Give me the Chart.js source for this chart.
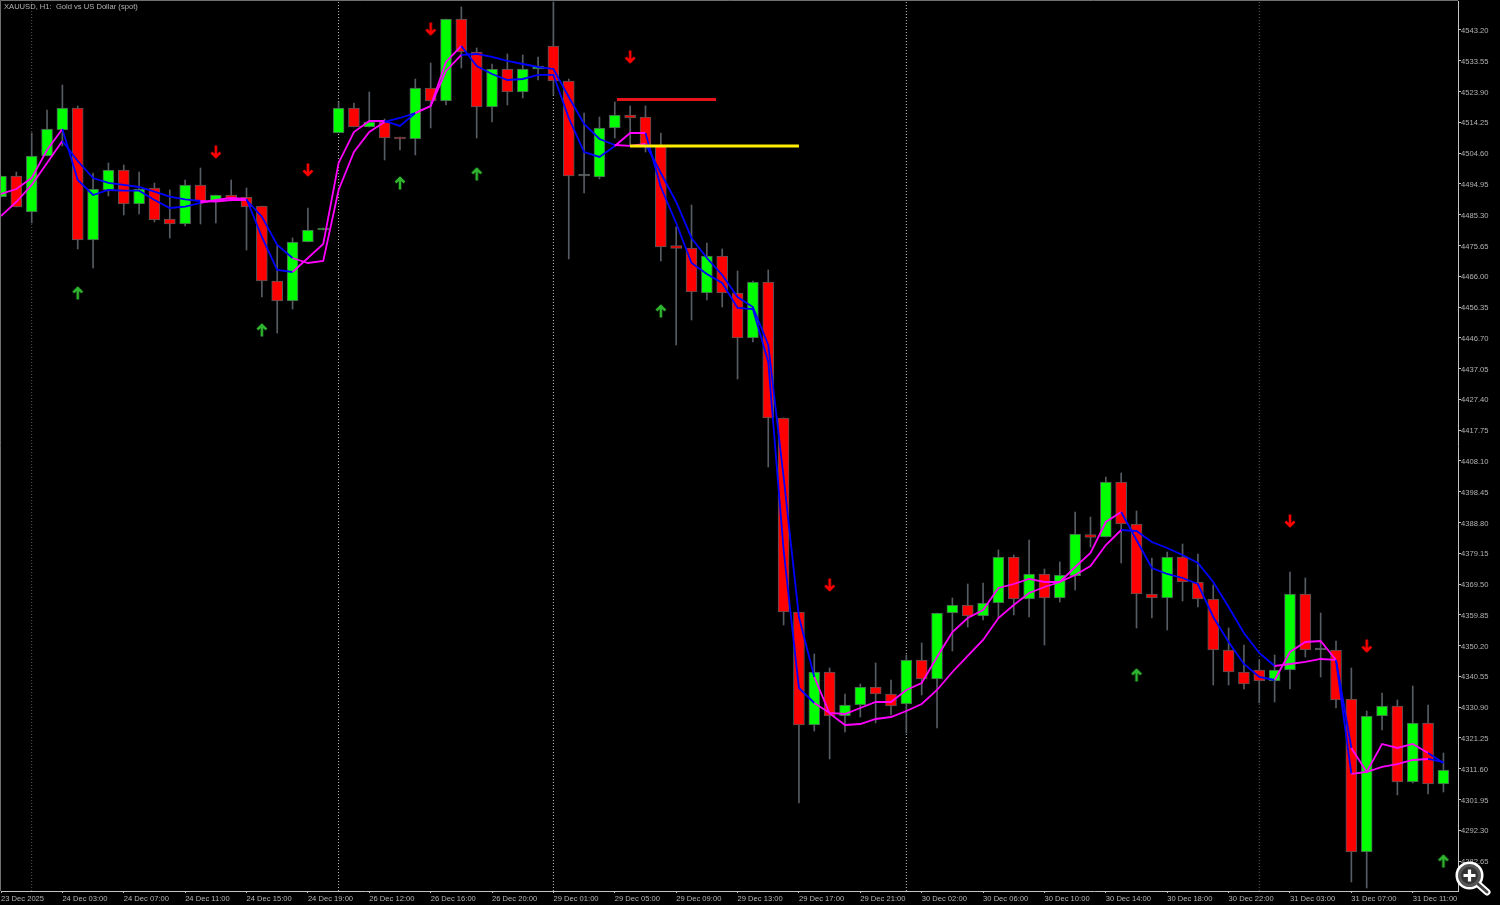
<!DOCTYPE html>
<html>
<head>
<meta charset="utf-8">
<title>XAUUSD, H1</title>
<script src="https://cdn.jsdelivr.net/npm/chart.js@4"></script>
<style>
html,body{margin:0;padding:0;background:#000;overflow:hidden}
#wrap{position:relative;width:1500px;height:905px}
canvas{display:block}
#zoomIcon{position:absolute;left:1454px;top:860px;width:40px;height:40px}
</style>
</head>
<body>
<div id="wrap">
<canvas id="c" width="1500" height="905"></canvas>
<svg id="zoomIcon" viewBox="0 0 40 40" aria-hidden="true">
<line x1="24" y1="24" x2="33" y2="32" stroke="#fff" stroke-width="7" stroke-linecap="round"/>
<circle cx="15.5" cy="15.5" r="11.5" fill="#000" stroke="#fff" stroke-width="5"/>
<line x1="24" y1="24" x2="33" y2="32" stroke="#444" stroke-width="3" stroke-linecap="round"/>
<circle cx="15.5" cy="15.5" r="10" fill="#333" stroke="#555" stroke-width="3"/>
<path d="M15.5 9.5v12M9.5 15.5h12" stroke="#fff" stroke-width="3.2"/>
</svg>
</div>
<script>
const chartTitle = 'XAUUSD, H1:  Gold vs US Dollar (spot)';

const opens = [4490.85,4497.43,4486.14,4503.70,4511.85,4518.75,4477.37,4493.04,4499.31,4488.65,
4493.67,4483.95,4482.38,4494.61,4489.59,4491.47,4490.85,4488.02,4464.51,4458.24,
4476.74,4480.50,4510.91,4518.75,4512.79,4514.36,4509.66,4509.03,4525.02,4520.94,
4546.65,4536.31,4519.06,4530.98,4523.77,4530.98,4538.19,4527.22,4497.43,4497.12,
4512.48,4516.55,4515.93,4506.84,4475.64,4474.86,4460.75,4472.35,4460.75,4446.64,
4464.20,4421.56,4360.74,4325.31,4341.92,4328.13,4331.57,4337.22,4335.03,4331.89,
4345.69,4339.73,4360.42,4362.93,4359.49,4363.55,4377.98,4364.81,4372.65,4365.12,
4372.02,4385.03,4384.25,4401.49,4388.32,4366.38,4365.12,4377.98,4370.14,4364.81,
4348.82,4341.92,4342.55,4339.10,4342.55,4366.38,4348.82,4348.82,4333.46,4285.49,
4328.13,4331.26,4307.43,4325.93,4306.80];

const highs = [4497.43,4498.68,4510.91,4518.12,4525.96,4519.38,4498.37,4501.51,4500.88,4498.68,
4495.24,4493.04,4496.18,4499.94,4491.47,4496.18,4493.67,4488.02,4475.80,4478.00,
4487.40,4481.13,4520.63,4520.32,4523.77,4515.30,4509.66,4527.84,4532.86,4546.65,
4550.42,4537.56,4532.54,4535.68,4535.37,4534.74,4551.98,4527.84,4517.18,4515.93,
4520.63,4519.38,4519.38,4510.91,4481.44,4488.34,4476.42,4474.54,4467.65,4464.51,
4467.96,4421.56,4360.74,4347.57,4343.18,4335.03,4338.16,4344.74,4339.41,4347.25,
4351.02,4360.42,4365.12,4369.51,4369.82,4380.17,4378.61,4383.31,4374.21,4376.41,
4392.09,4390.52,4403.06,4404.31,4392.40,4377.66,4379.54,4382.06,4378.92,4369.20,
4355.72,4350.39,4345.69,4347.25,4373.28,4371.39,4360.42,4351.64,4343.18,4329.70,
4335.34,4333.15,4337.53,4331.57,4316.52];

const lows = [4490.85,4487.71,4482.70,4503.70,4506.84,4474.54,4468.59,4491.16,4485.20,4485.52,
4483.01,4478.00,4481.75,4482.38,4482.70,4489.59,4474.23,4459.49,4448.21,4455.73,
4476.74,4480.50,4510.91,4512.79,4512.79,4502.45,4505.58,4504.01,4512.48,4519.69,
4531.29,4509.34,4514.36,4519.69,4521.88,4527.53,4522.83,4471.41,4492.10,4496.49,
4509.34,4507.15,4504.95,4470.78,4444.45,4452.28,4458.55,4456.36,4433.78,4445.39,
4406.19,4356.66,4300.84,4323.42,4314.65,4323.11,4327.81,4325.93,4328.44,4322.80,
4334.71,4324.36,4348.51,4356.03,4358.23,4358.85,4359.80,4359.17,4350.39,4363.87,
4367.63,4381.11,4384.25,4376.10,4355.72,4358.85,4355.09,4364.18,4362.30,4337.85,
4337.85,4336.59,4332.20,4332.51,4336.59,4346.62,4340.36,4330.64,4276.09,4274.21,
4323.74,4303.36,4307.12,4303.67,4304.30];

const closes = [4497.43,4487.71,4503.70,4512.17,4518.75,4477.37,4493.35,4499.31,4488.65,4493.35,
4483.64,4482.38,4494.61,4489.59,4491.47,4490.22,4487.71,4464.51,4458.24,4476.74,
4480.50,4481.13,4518.75,4512.79,4514.36,4509.34,4509.03,4525.02,4520.94,4546.65,
4536.31,4519.06,4530.98,4523.77,4530.98,4531.92,4527.22,4497.43,4497.43,4512.48,
4516.55,4515.61,4506.84,4475.17,4474.70,4461.06,4472.35,4460.75,4446.64,4464.20,
4421.56,4360.74,4325.31,4341.92,4328.13,4331.57,4337.22,4335.03,4331.26,4345.69,
4339.73,4360.42,4362.93,4359.49,4363.55,4377.98,4364.81,4372.65,4365.12,4372.34,
4385.19,4384.09,4401.49,4388.32,4366.38,4365.12,4377.98,4370.14,4364.81,4348.82,
4341.92,4338.16,4339.10,4342.55,4366.38,4348.82,4348.82,4333.15,4285.49,4328.13,
4331.26,4307.43,4325.93,4306.80,4311.20];

const fastMA = [4491.79,4493.35,4496.80,4505.58,4512.17,4496.18,4491.47,4493.04,4492.82,4492.82,
4489.90,4487.40,4487.81,4488.97,4489.90,4490.53,4490.22,4478.31,4467.96,4467.33,
4471.72,4476.11,4501.51,4511.22,4514.67,4514.67,4513.11,4517.12,4519.38,4533.17,
4538.19,4531.92,4529.41,4527.53,4527.84,4529.10,4529.10,4515.61,4504.95,4503.39,
4506.84,4510.91,4510.91,4493.98,4482.70,4470.15,4466.70,4463.88,4456.04,4455.73,
4439.12,4380.17,4336.91,4332.20,4329.07,4328.76,4330.64,4332.51,4332.51,4336.28,
4338.47,4346.62,4354.46,4358.85,4361.36,4368.26,4369.51,4371.08,4370.14,4370.14,
4374.84,4379.23,4388.95,4392.09,4383.31,4374.53,4372.65,4371.39,4369.51,4359.17,
4351.33,4344.43,4340.36,4339.41,4348.20,4351.33,4351.64,4345.69,4309.95,4310.57,
4319.35,4318.10,4319.35,4316.52,4313.39];

const slowMA = [4484.89,4489.28,4494.61,4501.51,4508.40,4502.13,4496.80,4495.24,4494.61,4493.98,
4492.51,4490.94,4490.12,4489.59,4489.37,4489.90,4489.90,4484.67,4475.80,4471.72,
4470.15,4470.78,4493.04,4504.95,4511.22,4514.36,4515.61,4517.18,4519.38,4530.35,
4535.37,4535.68,4534.74,4533.49,4532.54,4531.60,4530.98,4522.20,4513.73,4509.03,
4507.15,4506.84,4507.46,4498.37,4489.28,4478.00,4471.72,4466.39,4459.49,4456.36,
4444.45,4403.06,4359.17,4340.36,4328.91,4325.31,4325.62,4327.19,4327.81,4329.70,
4331.89,4336.28,4341.92,4346.94,4351.96,4358.85,4362.93,4366.69,4368.57,4370.14,
4372.34,4375.16,4381.74,4386.44,4386.13,4382.68,4380.80,4378.61,4376.10,4370.14,
4362.30,4354.15,4347.88,4343.80,4344.43,4345.06,4346.00,4345.69,4318.10,4310.57,
4312.14,4313.07,4314.33,4314.65,4313.70];

const upArrowIndex = [5,17,26,31,43,74,94];
const upArrowPrice = [4460.75,4449.15,4495.24,4498.06,4455.10,4340.98,4282.66];
const downArrowIndex = [14,20,28,41,54,84,89];
const downArrowPrice = [4504.95,4499.31,4543.52,4534.74,4369.20,4389.27,4350.07];

const redLevelPrice = 4521.41;
const redLevelRange = [40.14,46.6];
const yellowLevelPrice = 4506.83;
const yellowLevelRange = [40.99,52.0];

const daySeparators = [22,36,59];
const dimSeparators = [2,82];

const priceTicks = [4543.20,4533.55,4523.90,4514.25,4504.60,4494.95,4485.30,4475.65,4466.00,4456.35,
4446.70,4437.05,4427.40,4417.75,4408.10,4398.45,4388.80,4379.15,4369.50,4359.85,
4350.20,4340.55,4330.90,4321.25,4311.60,4301.95,4292.30,4282.65];

const timeTickEvery = 4;
const timeTicks = ['23 Dec 2025','24 Dec 03:00','24 Dec 07:00','24 Dec 11:00','24 Dec 15:00','24 Dec 19:00',
'26 Dec 12:00','26 Dec 16:00','26 Dec 20:00','29 Dec 01:00','29 Dec 05:00','29 Dec 09:00','29 Dec 13:00',
'29 Dec 17:00','29 Dec 21:00','30 Dec 02:00','30 Dec 06:00','30 Dec 10:00','30 Dec 14:00','30 Dec 18:00',
'30 Dec 22:00','31 Dec 03:00','31 Dec 07:00','31 Dec 11:00'];

const PRICE_MIN = 4273.26, PRICE_MAX = 4552.29;
const INDEX_MIN = 0, INDEX_MAX = 94.95;

const UP = '#00ff00', DOWN = '#ff0000', FLAT = '#8a8a8a';
const BLUE = '#0000ff', MAGENTA = '#ff00ff';
const TEXT = '#b4b4b4', FONT = '"Liberation Sans", Arial, sans-serif';

function makeArrow(up, color){
  const c = document.createElement('canvas');
  c.width = 12; c.height = 14;
  const g = c.getContext('2d');
  g.strokeStyle = color; g.lineWidth = 2.6; g.lineCap = 'butt'; g.lineJoin = 'miter';
  g.translate(6, 7);
  if(!up) g.scale(1, -1);
  g.beginPath(); g.moveTo(0, -5.5); g.lineTo(0, 6.5); g.stroke();
  g.beginPath(); g.moveTo(-4.5, -0.5); g.lineTo(0, -5); g.lineTo(4.5, -0.5); g.stroke();
  return c;
}

const indices = opens.map((_, i) => i);
const bodyColor = indices.map(i => closes[i] > opens[i] ? UP : closes[i] < opens[i] ? DOWN : FLAT);
const segmentColor = ctx => fastMA[ctx.p1DataIndex] >= slowMA[ctx.p1DataIndex] ? MAGENTA : BLUE;

function maDataset(label, values){
  return {type:'line', label, data: indices.map(i => ({x:i, y:values[i]})), order:1,
    borderWidth:1.8, pointRadius:0, tension:0, borderColor:MAGENTA, segment:{borderColor:segmentColor}};
}
function levelDataset(label, range, price, color){
  return {type:'line', label, data: range.map(x => ({x, y:price})), order:0,
    borderColor:color, borderWidth:3, pointRadius:0};
}
function separatorDataset(x, color){
  return {type:'line', label:'sep'+x, data:[{x, y:PRICE_MIN},{x, y:PRICE_MAX}], order:6,
    borderColor:color, borderWidth:1, borderDash:[1,2], pointRadius:0};
}

const frame = {
  id:'frame',
  beforeDatasetsDraw(chart){
    const {ctx, chartArea:a} = chart;
    ctx.save();
    ctx.strokeStyle = '#707070'; ctx.lineWidth = 1;
    ctx.beginPath();
    ctx.moveTo(a.left - 0.5, a.bottom); ctx.lineTo(a.left - 0.5, a.top - 0.5); ctx.lineTo(a.right, a.top - 0.5);
    ctx.stroke();
    ctx.restore();
  },
  afterDraw(chart){
    const {ctx} = chart;
    ctx.save();
    ctx.font = '7.6px ' + FONT; ctx.fillStyle = TEXT; ctx.textBaseline = 'middle';
    ctx.fillText(chartTitle, 4, 6.5);
    ctx.restore();
  }
};

new Chart(document.getElementById('c'), {
  data:{datasets:[
    {type:'scatter', label:'Buy', data:upArrowIndex.map((x,i)=>({x, y:upArrowPrice[i]})), order:0,
      pointStyle:makeArrow(true,'#2fb52f'), pointRadius:6},
    {type:'scatter', label:'Sell', data:downArrowIndex.map((x,i)=>({x, y:downArrowPrice[i]})), order:0,
      pointStyle:makeArrow(false,'#ff0000'), pointRadius:6},
    levelDataset('Red level', redLevelRange, redLevelPrice, '#e8141c'),
    levelDataset('Yellow level', yellowLevelRange, yellowLevelPrice, '#ffee00'),
    maDataset('Fast MA', fastMA),
    maDataset('Slow MA', slowMA),
    {type:'bar', label:'Body', data:indices.map(i=>({x:i, y:[opens[i], closes[i]]})), order:4, grouped:false,
      backgroundColor:bodyColor, borderColor:'#50565a', borderWidth:1, borderSkipped:false, barThickness:11, minBarLength:2},
    {type:'bar', label:'Wick', data:indices.map(i=>({x:i, y:[lows[i], highs[i]]})), order:5, grouped:false,
      backgroundColor:'#565c63', borderWidth:0, barThickness:1},
    ...daySeparators.map(x => separatorDataset(x,'#c0c0c0')),
    ...dimSeparators.map(x => separatorDataset(x,'#5c5c5c'))
  ]},
  options:{
    responsive:false, animation:false, events:[],
    layout:{autoPadding:false, padding:{left:1, top:1, right:0, bottom:0}},
    plugins:{legend:{display:false}, tooltip:{enabled:false}, title:{display:false}},
    scales:{
      x:{type:'linear', offset:false, min:INDEX_MIN, max:INDEX_MAX, position:'bottom',
        afterBuildTicks(axis){ axis.ticks = timeTicks.map((_, k) => ({value:k*timeTickEvery})); },
        afterFit(axis){ axis.height = 14; axis.paddingLeft = 0; axis.paddingRight = 0; },
        grid:{offset:false, drawOnChartArea:false, drawTicks:true, tickLength:2, tickColor:'#c4c4c4'},
        border:{display:true, color:'#c4c4c4', width:1},
        ticks:{color:TEXT, font:{family:FONT, size:7.6}, padding:1, maxRotation:0, minRotation:0, autoSkip:false, align:'start',
          callback:v => timeTicks[v/timeTickEvery]}},
      y:{type:'linear', min:PRICE_MIN, max:PRICE_MAX, position:'right',
        afterBuildTicks(axis){ axis.ticks = priceTicks.map(value => ({value})); },
        afterFit(axis){ axis.width = 42; axis.paddingTop = 0; axis.paddingBottom = 0; },
        grid:{drawOnChartArea:false, drawTicks:true, tickLength:3, tickColor:'#c4c4c4'},
        border:{display:true, color:'#c4c4c4', width:1},
        ticks:{color:TEXT, font:{family:FONT, size:7.6}, padding:0, autoSkip:false, crossAlign:'near', labelOffset:1,
          callback:v => v.toFixed(2)}}
    }
  },
  plugins:[frame]
});
</script>
</body>
</html>
